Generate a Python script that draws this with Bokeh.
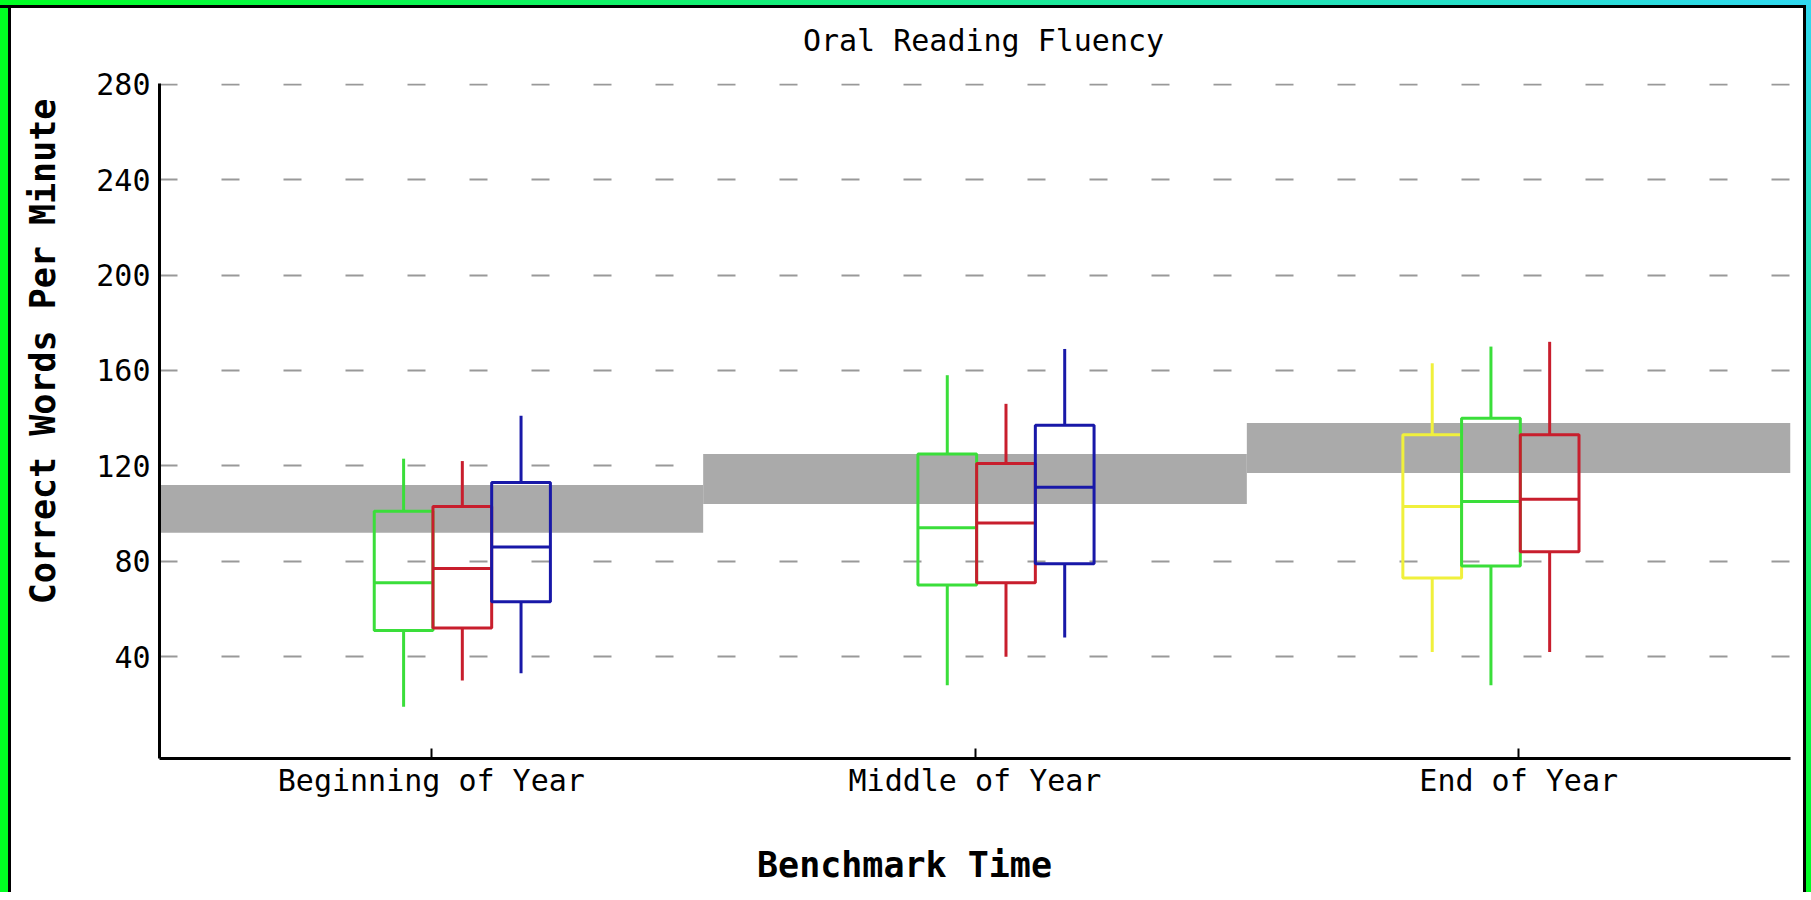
import math
from bokeh.plotting import figure
from bokeh.models import ColumnDataSource, FactorRange, Range1d, FixedTicker, Label
from bokeh.transform import dodge
from bokeh.embed import file_html
from bokeh.resources import INLINE

# ---------------- data ----------------
categories = ["Beginning of Year", "Middle of Year", "End of Year"]
y_ticks = [40, 80, 120, 160, 200, 240, 280]

# benchmark target band (grey) per benchmark time
target_low = [92, 104, 117]
target_high = [112, 125, 138]

# five-number summaries (min, q1, median, q3, max) per benchmark time
yellow_stats = {"End of Year": (42, 73, 103, 133, 163)}
green_stats = {
    "Beginning of Year": (19, 51, 71, 101, 123),
    "Middle of Year": (28, 70, 94, 125, 158),
    "End of Year": (28, 78, 105, 140, 170),
}
red_stats = {
    "Beginning of Year": (30, 52, 77, 103, 122),
    "Middle of Year": (40, 71, 96, 121, 146),
    "End of Year": (42, 84, 106, 133, 172),
}
blue_stats = {
    "Beginning of Year": (33, 63, 86, 113, 141),
    "Middle of Year": (48, 79, 111, 137, 169),
}

# ---------------- styling ----------------
FONT = "DejaVu Sans Mono"
series = [
    (yellow_stats, "#f0f03c", -0.159),
    (green_stats, "#3ade3a", -0.051),
    (red_stats, "#c81e2d", 0.057),
    (blue_stats, "#1818a8", 0.165),
]
BOX_W = 0.108
LW = 3

frame_bg = ("linear-gradient(to right, #00ff22, #30d8f0) 0 0 / 100% 5px no-repeat, "
            "linear-gradient(to bottom, #30d8f0, #00ff22) right 0 top 0 / 5px 100% no-repeat, "
            "linear-gradient(#000, #000) 0 5px / 100% 3px no-repeat, "
            "linear-gradient(#000, #000) right 5px top 0 / 3px 100% no-repeat, "
            "linear-gradient(#00ff22, #00ff22) 0 0 / 8px 100% no-repeat, "
            "linear-gradient(#000, #000) 8px 0 / 3px 100% no-repeat, "
            "#ffffff")

p = figure(
    width=1811, height=892,
    x_range=FactorRange(*categories, range_padding=0),
    y_range=Range1d(-2.7, 280.3),
    output_backend="svg", toolbar_location=None,
    min_border_left=159, min_border_right=21,
    min_border_top=83, min_border_bottom=134,
    styles={"background": frame_bg},
)
p.title.text = ""
p.outline_line_color = None
p.background_fill_color = "white"
p.border_fill_color = None

# grey target bands
band_src = ColumnDataSource(dict(cat=categories, lo=target_low, hi=target_high))
p.vbar(x="cat", width=1.0, bottom="lo", top="hi", source=band_src,
       fill_color="#aaaaaa", line_color=None)

# box plots
for stats, color, off in series:
    cats = [c for c in categories if c in stats]
    mn, q1, md, q3, mx = zip(*[stats[c] for c in cats])
    src = ColumnDataSource(dict(cat=cats, mn=mn, q1=q1, md=md, q3=q3, mx=mx))
    xc = dodge("cat", off, range=p.x_range)
    xl = dodge("cat", off - BOX_W / 2, range=p.x_range)
    xr = dodge("cat", off + BOX_W / 2, range=p.x_range)
    p.segment(x0=xc, y0="q3", x1=xc, y1="mx", source=src, line_color=color, line_width=LW)
    p.segment(x0=xc, y0="mn", x1=xc, y1="q1", source=src, line_color=color, line_width=LW)
    p.vbar(x=xc, width=BOX_W, bottom="q1", top="q3", source=src,
           fill_alpha=0, line_color=color, line_width=LW)
    p.segment(x0=xl, y0="md", x1=xr, y1="md", source=src, line_color=color, line_width=LW)

# axes
p.xgrid.grid_line_color = None
p.ygrid.ticker = FixedTicker(ticks=y_ticks)
p.ygrid.grid_line_color = "#999999"
p.ygrid.grid_line_width = 2
p.ygrid.grid_line_dash = "18 44"

p.yaxis.ticker = FixedTicker(ticks=y_ticks)
for ax in (p.xaxis[0], p.yaxis[0]):
    ax.axis_line_color = "black"
    ax.axis_line_width = 3
    ax.major_label_text_font = FONT
    ax.major_label_text_font_size = "30px"
    ax.major_label_text_color = "black"
    ax.minor_tick_line_color = None
p.yaxis.major_tick_in = 0
p.yaxis.major_tick_out = 0
p.yaxis.major_label_standoff = 9
p.xaxis.major_tick_in = 10
p.xaxis.major_tick_out = 0
p.xaxis.major_tick_line_width = 2
p.xaxis.major_tick_line_color = "black"
p.xaxis.major_label_standoff = 4

# titles, placed in the side panels
p.add_layout(Label(x=824, y=43, x_units="screen", y_units="screen",
                   text="Oral Reading Fluency", text_font=FONT, text_font_size="30px",
                   text_align="center", text_baseline="alphabetic", text_color="black"), "above")
p.add_layout(Label(x=745, y=-24, x_units="screen", y_units="screen",
                   text="Benchmark Time", text_font=FONT, text_font_size="35px",
                   text_font_style="bold", text_align="center", text_baseline="alphabetic",
                   text_color="black"), "below")
p.add_layout(Label(x=-11, y=407, x_units="screen", y_units="screen", angle=math.pi / 2,
                   text="Correct Words Per Minute", text_font=FONT, text_font_size="35px",
                   text_font_style="bold", text_align="center", text_baseline="alphabetic",
                   text_color="black"), "left")

open("out.html", "w").write(file_html(p, INLINE))
